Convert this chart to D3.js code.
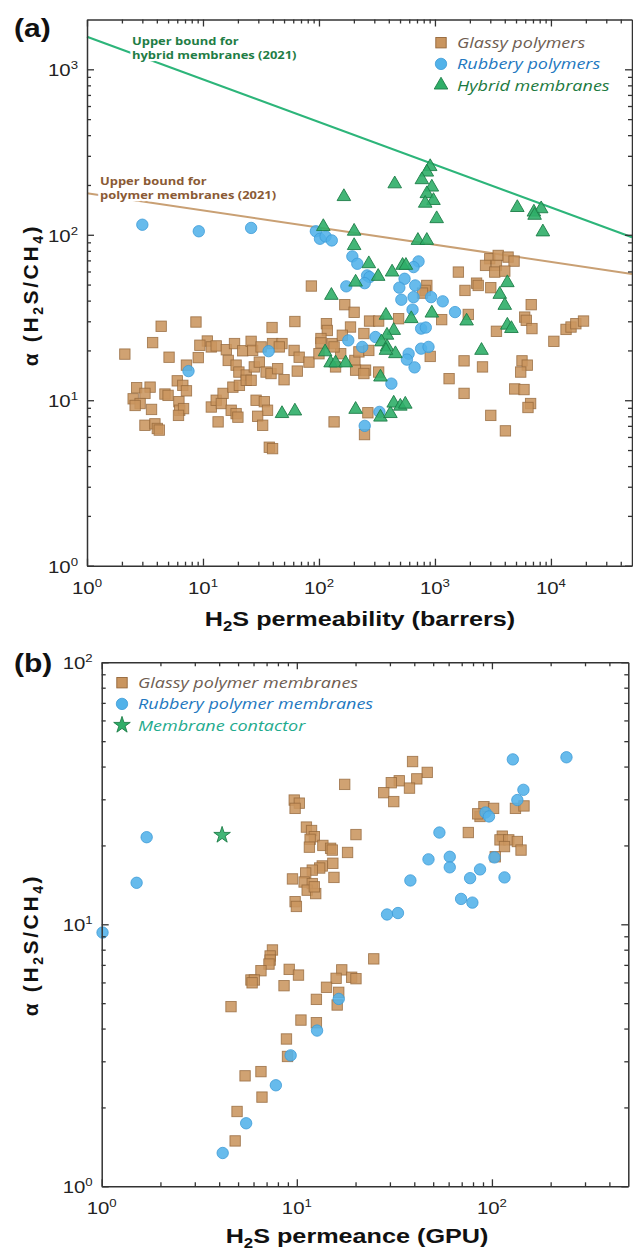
<!DOCTYPE html>
<html>
<head>
<meta charset="utf-8">
<script src="https://cdn.jsdelivr.net/npm/d3@7/dist/d3.min.js"></script>
<style>
  body{margin:0;background:#fff;}
  svg{display:block;font-family:"Liberation Sans",Arial,sans-serif;}
  .axis .domain{stroke:#333;stroke-width:1.5;}
  .axis line{stroke:#333;stroke-width:1.3;}
  .lg{font-family:"Open Sans",sans-serif;font-style:italic;font-size:15px;}
  .bound{font-family:"Open Sans",sans-serif;font-weight:700;font-size:10.6px;
         paint-order:stroke;stroke:#fff;stroke-width:4.5;stroke-linejoin:round;}
</style>
</head>
<body>
<svg id="chart" width="633" height="1252"></svg>
<script>
// (a) H2S permeability (barrers) vs H2S/CH4 selectivity
const glassyA = [
  [86,49],[167,37.8],[201,34],[4.36,28],[8.7,29.7],[39.4,27.5],[62,29.9],[116,29],[118,26.4],[187,27.7],
  [3.68,22.3],[2.12,19],[5.1,18.2],[10.9,22.8],[9.4,21.5],[11.8,21],[13,21.3],[9.1,18.1],[15.9,20.2],[18.7,22],
  [22,19.9],[26,22.7],[26.8,20],[31.7,21],[39.8,22],[48,22],[45.5,21],[61,20],[67.5,18.2],[82,17],
  [100,19.1],[130,22],[154,19.1],[204,17.4],[207,15.2],[16.5,17.4],[19.3,16.3],[20.4,14.8],[23.6,14.2],[27.7,15.9],
  [30.6,17],[35,14.8],[38.6,14.5],[44,15.5],[50,13.3],[65,15],[7.2,16.3],[6,13.1],[6.7,12.3],[7.2,11.4],
  [2.68,11.9],[3.5,12],[3.16,11],[2.5,10.2],[2.87,9.55],[2.6,9.3],[3.6,8.8],[4.7,10.9],[5,10.7],[6.2,9.8],
  [6.3,8.7],[6.8,8.9],[6.15,8.1],[3.16,7.06],[3.85,7.2],[4.04,6.75],[4.2,6.6],[13.5,7.4],[11.8,9.1],[13,10],
  [14.9,11],[14.4,9.55],[17.5,8.7],[19.3,8.3],[20,7.9],[18.1,12],[20.6,12.3],[23.6,13.2],[26,13.2],[28.7,10],
  [33.8,9.8],[36,8.7],[29.6,8],[32.7,7.06],[37.3,5.2],[39.8,5.1],[135,7.4],
  [1592,59.5],[2970,71.6],[3510,75],[4270,73.3],[4810,69.3],[2730,65.3],[3390,65.3],[3280,59.5],[4000,60.3],
  [851,49.4],[1815,46.1],[2285,51],[2360,49.4],[3030,47.9],[6760,37.8],[5940,31.8],[6130,30.4],[6860,27.1],
  [3390,26.1],[13500,26.8],[14900,27.7],[16400,29],[19100,30.1],[10600,22.7],[824,46.1],[781,44.4],[1143,30.7],
  [1937,33],[486,31.1],[273,30.1],[327,30.1],[244,25.3],[104,23.6],[104,22.2],[135,21],[159,24.7],[221,19.6],
  [269,20],[139,15.9],[252,15.2],[244,14.5],[327,14.8],[910,18.4],[1782,17.3],[2570,15.9],[5630,17.3],
  [6250,16.3],[5490,14.8],[1324,13.5],[4870,11.7],[5860,11.6],[1782,11],[6680,9.55],[6340,9.04],[3030,8.1],
  [4050,6.53],[264,8.4],[247,6.2]
];
const rubberyA = [
  [3.0,115],[9.2,105],[26,110],[94,105],[102,94.6],[114,97.7],[129,92.4],[194,74],[214,66.8],[172,48.8],
  [179,23],[36.8,19.8],[7.5,15],[260,56.8],[273,55.5],[248,51],[722,69],[654,63.8],[547,54.2],[676,49.4],
  [493,47.9],[654,42],[513,40.5],[927,42],[1167,39.6],[1490,34.1],[641,35.3],[760,27.1],[834,27.5],[236,21],
  [307,24.1],[593,19.1],[573,17.6],[667,15.8],[760,20.5],[880,21],[421,12.6],[332,8.5],[248,7]
];
const hybridA = [
  [164,170],[109,112],[201,105],[201,86],[128,43],[207,51.7],[113,19.6],[126,16.8],[139,16.8],[170,16.8],
  [48,8.3],[62,8.6],[207,8.8],[910,258],[851,239],[771,215],[450,203],[940,194],[851,177],[971,161],
  [824,155],[1035,125],[5130,146],[7130,137],[8240,143.5],[7230,131],[8520,104],[713,92.4],[851,92.4],[269,66.8],
  [324,56],[427,59.5],[526,65.3],[562,65.3],[4210,51.3],[3620,43.6],[4000,37.4],[940,33.6],[378,32.6],[625,31.1],
  [1875,30.1],[4210,28.4],[4560,27.1],[441,26.4],[386,24.7],[346,22.5],[386,21],[456,19.1],[378,20],[2520,20],
  [339,13.8],[339,7.9],[413,8.3],[441,9.6],[503,9.2],[555,9.46]
];
// upper bound lines, read at both plot edges
const hybridBound = [[1,1575],[50000,96.7]];
const polymerBound = [[1,178],[50000,58]];

// (b) H2S permeance (GPU) vs H2S/CH4 selectivity
const glassyB = [
  [9.7,29.8],[10.3,29],[9.8,27.7],[17.6,34.2],[11.2,23.5],[11.9,22.8],[12.3,21.6],[11.7,21.1],[11.6,19.7],[13.6,20],
  [14.9,19.5],[15.2,19.2],[20.1,22],[18.2,18.8],[15.3,17.1],[13.5,16.7],[13.1,16.4],[12,16.1],[11.1,15.7],[9.5,14.9],
  [15.5,15.1],[10.9,14.5],[12,14.3],[11.3,13.5],[12.5,13.1],[12.3,13.9],[9.8,12.2],[9.95,11.7],
  [7.5,7.98],[7.3,7.57],[7.3,7.3],[7.2,7.05],[6.55,6.65],[5.82,6.13],[6.06,6.13],[5.9,5.98],[9.14,6.73],[10.2,6.4],
  [8.6,5.83],[24.8,7.38],[17,6.7],[15.9,6.22],[19.1,6.28],[20.1,6.2],[14.2,5.75],[16.4,5.5],[16.1,4.92],[12.6,5.17],
  [4.6,4.85],[10.5,4.31],[12.6,4.21],[8.85,3.65],[8.96,3.13],[6.55,2.74],[5.43,2.64],[6.63,2.19],[4.94,1.93],[4.83,1.49],
  [39.2,41.8],[46.6,38],[33.5,35.3],[30.5,34.7],[41.2,35.9],[37.8,33.1],[27.9,31.8],[31.4,29.4],[75.7,22.4],[91,28.1],
  [102,27.7],[86.9,25.8],[84.5,26.4],[132,27.7],[146,28.3],[113,21.7],[110,21],[122,21],[135,20.7],[116,19.8],
  [141,19.2],[104,18.1]
];
const rubberyB = [
  [1.70,21.5],[1.51,14.4],[1.01,9.3],[16.4,5.19],[12.7,3.93],[9.3,3.16],[7.81,2.43],[5.5,1.74],[4.17,1.34],
  [128,42.6],[241,43.4],[145,32.6],[135,29.8],[92.7,26.7],[96.6,25.8],[53.8,22.4],[47.3,17.7],[60.8,18.1],[60.8,16.5],
  [103,18],[86.9,16.2],[77.3,15],[116,15.1],[38.2,14.7],[69.5,12.5],[79.4,12.1],[29,10.9],[33,11.04]
];
const contactorB = [[4.14,21.9]];

const xTicksA = [1,10,100,1000,10000];
const yTicksA = [1,10,100,1000];
const xTicksB = [1,10,100];
const yTicksB = [1,10,100];
const legendA = ["Glassy polymers","Rubbery polymers","Hybrid membranes"];
const legendB = ["Glassy polymer membranes","Rubbery polymer membranes","Membrane contactor"];

const col = {
  sqFill:"#c9955f", sqLine:"#946639",
  ciFill:"#52b2e9", ciLine:"#3c9bd7",
  trFill:"#2fae68", trLine:"#1d7d47",
  hybLine:"#2db57a", polyLine:"#c9a074"
};

// the source figure is stretched a little horizontally, so its texts are too
const STRETCH = 1.2;

const svg = d3.select("#chart");

function minors(domain){
  const out = [];
  for(let d = 1; d <= domain[1]; d *= 10){
    for(let k = 2; k <= 9; k++){
      if(d*k > domain[0] && d*k < domain[1]) out.push(d*k);
    }
  }
  return out;
}

function frame(g, x, y, xt, yt){
  const [x0,x1] = x.range(), [y0,y1] = y.range();
  const sides = [
    [d3.axisBottom(x), `translate(0,${y0})`, xt, minors(x.domain())],
    [d3.axisTop(x), `translate(0,${y1})`, xt, minors(x.domain())],
    [d3.axisLeft(y), `translate(${x0},0)`, yt, minors(y.domain())],
    [d3.axisRight(y), `translate(${x1},0)`, yt, minors(y.domain())]
  ];
  sides.forEach(([ax,tr,maj,mnr])=>{
    g.append("g").attr("class","axis").attr("transform",tr)
      .call(ax.tickValues(maj).tickSizeInner(-7).tickSizeOuter(0).tickFormat(""));
    g.append("g").attr("class","axis").attr("transform",tr)
      .call(ax.tickValues(mnr).tickSizeInner(-4).tickSizeOuter(0).tickFormat(""))
      .select(".domain").remove();
  });

  const exp = v => String(Math.round(Math.log10(v)));

  const xl = g.append("g").selectAll("text").data(xt).join("text")
    .attr("transform", d=>`translate(${x(d)},${y0+28}) scale(${STRETCH},1)`)
    .attr("text-anchor","middle").attr("font-size",17).attr("fill","#222");
  xl.append("tspan").text("10");
  xl.append("tspan").attr("dy",-7).attr("font-size",11).text(exp);

  const yl = g.append("g").selectAll("text").data(yt).join("text")
    .attr("transform", d=>`translate(${x0-9},${y(d)+7}) scale(${STRETCH},1)`)
    .attr("text-anchor","end").attr("font-size",17).attr("fill","#222");
  yl.append("tspan").text("10");
  yl.append("tspan").attr("dy",-7).attr("font-size",11).text(exp);
}

function yTitle(g, cx, cy){
  const t = g.append("text")
    .attr("transform",`translate(${cx},${cy}) rotate(-90)`)
    .attr("text-anchor","middle").attr("font-size",21).attr("letter-spacing",2.6)
    .attr("font-weight","bold").attr("fill","#111");
  t.append("tspan").text("α (H");
  t.append("tspan").attr("dy",5).attr("font-size",14).text("2");
  t.append("tspan").attr("dy",-5).text("S/CH");
  t.append("tspan").attr("dy",5).attr("font-size",14).text("4");
  t.append("tspan").attr("dy",-5).text(")");
}

function xTitle(g, cx, cy, rest){
  const t = g.append("text")
    .attr("transform",`translate(${cx},${cy}) scale(${STRETCH},1)`)
    .attr("text-anchor","middle").attr("font-size",21).attr("font-weight","bold").attr("fill","#111");
  t.append("tspan").text("H");
  t.append("tspan").attr("dy",5).attr("font-size",14).text("2");
  t.append("tspan").attr("dy",-5).text(rest);
}

function panelLabel(g, x, y, txt){
  g.append("text").attr("transform",`translate(${x},${y}) scale(${STRETCH},1)`)
    .attr("font-size",25).attr("font-weight","bold").attr("fill","#111").text(txt);
}

function boundLabel(g, x, y, lines, color){
  lines.forEach((s,i)=>{
    g.append("text").attr("class","bound")
      .attr("transform",`translate(${x},${y + i*14.4}) scale(1.22,1)`)
      .attr("fill",color).text(s);
  });
}

function squares(g, data, x, y){
  g.append("g").selectAll("rect").data(data).join("rect")
    .attr("x", d=>x(d[0])-5.2).attr("y", d=>y(d[1])-5.2)
    .attr("width",10.4).attr("height",10.4)
    .attr("fill",col.sqFill).attr("fill-opacity",0.88)
    .attr("stroke",col.sqLine).attr("stroke-width",0.9).attr("stroke-opacity",0.8);
}
function circles(g, data, x, y){
  g.append("g").selectAll("circle").data(data).join("circle")
    .attr("cx", d=>x(d[0])).attr("cy", d=>y(d[1])).attr("r",5.7)
    .attr("fill",col.ciFill).attr("fill-opacity",0.88)
    .attr("stroke",col.ciLine).attr("stroke-width",0.8);
}
function symbols(g, data, x, y, type, size, fill, line){
  g.append("g").selectAll("path").data(data).join("path")
    .attr("transform", d=>`translate(${x(d[0])},${y(d[1])})`)
    .attr("d", d3.symbol().type(type).size(size))
    .attr("fill",fill).attr("fill-opacity",0.9)
    .attr("stroke",line).attr("stroke-width",0.9);
}

function legend(g, items, lx, ly, colors, kinds){
  items.forEach((label,i)=>{
    const cy = ly + i*21.2;
    const k = kinds[i];
    if(k==="sq"){
      g.append("rect").attr("x",lx-5.2).attr("y",cy-5.2).attr("width",10.4).attr("height",10.4)
        .attr("fill",col.sqFill).attr("stroke",col.sqLine).attr("stroke-width",0.9);
    } else if(k==="ci"){
      g.append("circle").attr("cx",lx).attr("cy",cy).attr("r",5.7)
        .attr("fill",col.ciFill).attr("stroke",col.ciLine).attr("stroke-width",0.8);
    } else {
      g.append("path").attr("transform",`translate(${lx},${cy})`)
        .attr("d", d3.symbol().type(k==="tr"?d3.symbolTriangle:d3.symbolStar).size(k==="tr"?80:85))
        .attr("fill",col.trFill).attr("stroke",col.trLine).attr("stroke-width",0.9);
    }
    g.append("text").attr("class","lg")
      .attr("transform",`translate(${lx+16},${cy+5.5}) scale(${STRETCH},1)`)
      .attr("fill",colors[i]).text(label);
  });
}

// ---------- panel (a)
const xA = d3.scaleLog().domain([1,5e4]).range([87,632]);
const yA = d3.scaleLog().domain([1,2000]).range([565.7,19.5]);
const gA = svg.append("g");

const line = d3.line().x(d=>xA(d[0])).y(d=>yA(d[1]));
gA.append("path").datum(hybridBound).attr("d",line)
  .attr("fill","none").attr("stroke",col.hybLine).attr("stroke-width",2.2);
gA.append("path").datum(polymerBound).attr("d",line)
  .attr("fill","none").attr("stroke",col.polyLine).attr("stroke-width",2);

squares(gA, glassyA, xA, yA);
circles(gA, rubberyA, xA, yA);
symbols(gA, hybridA, xA, yA, d3.symbolTriangle, 80, col.trFill, col.trLine);

boundLabel(gA, 132, 45, ["Upper bound for","hybrid membranes (2021)"], "#1f7d45");
boundLabel(gA, 100, 184.5, ["Upper bound for","polymer membranes (2021)"], "#8a5a35");

frame(gA, xA, yA, xTicksA, yTicksA);
legend(gA, legendA, 441, 42.7, ["#6e5d52","#2378c0","#1c7a40"], ["sq","ci","tr"]);

panelLabel(gA, 14, 37, "(a)");
yTitle(gA, 38, 295);
xTitle(gA, 360, 626, "S permeability (barrers)");

// ---------- panel (b)
const xB = d3.scaleLog().domain([1,500]).range([101.7,628.3]);
const yB = d3.scaleLog().domain([1,100]).range([1186.3,662.3]);
const gB = svg.append("g");

squares(gB, glassyB, xB, yB);
circles(gB, rubberyB, xB, yB);
symbols(gB, contactorB, xB, yB, d3.symbolStar, 85, col.trFill, col.trLine);

frame(gB, xB, yB, xTicksB, yTicksB);
legend(gB, legendB, 122, 682.7, ["#6e5d52","#2378c0","#1fab8e"], ["sq","ci","st"]);

panelLabel(gB, 14, 672, "(b)");
yTitle(gB, 38, 945);
xTitle(gB, 357, 1243, "S permeance (GPU)");
</script>
</body>
</html>
